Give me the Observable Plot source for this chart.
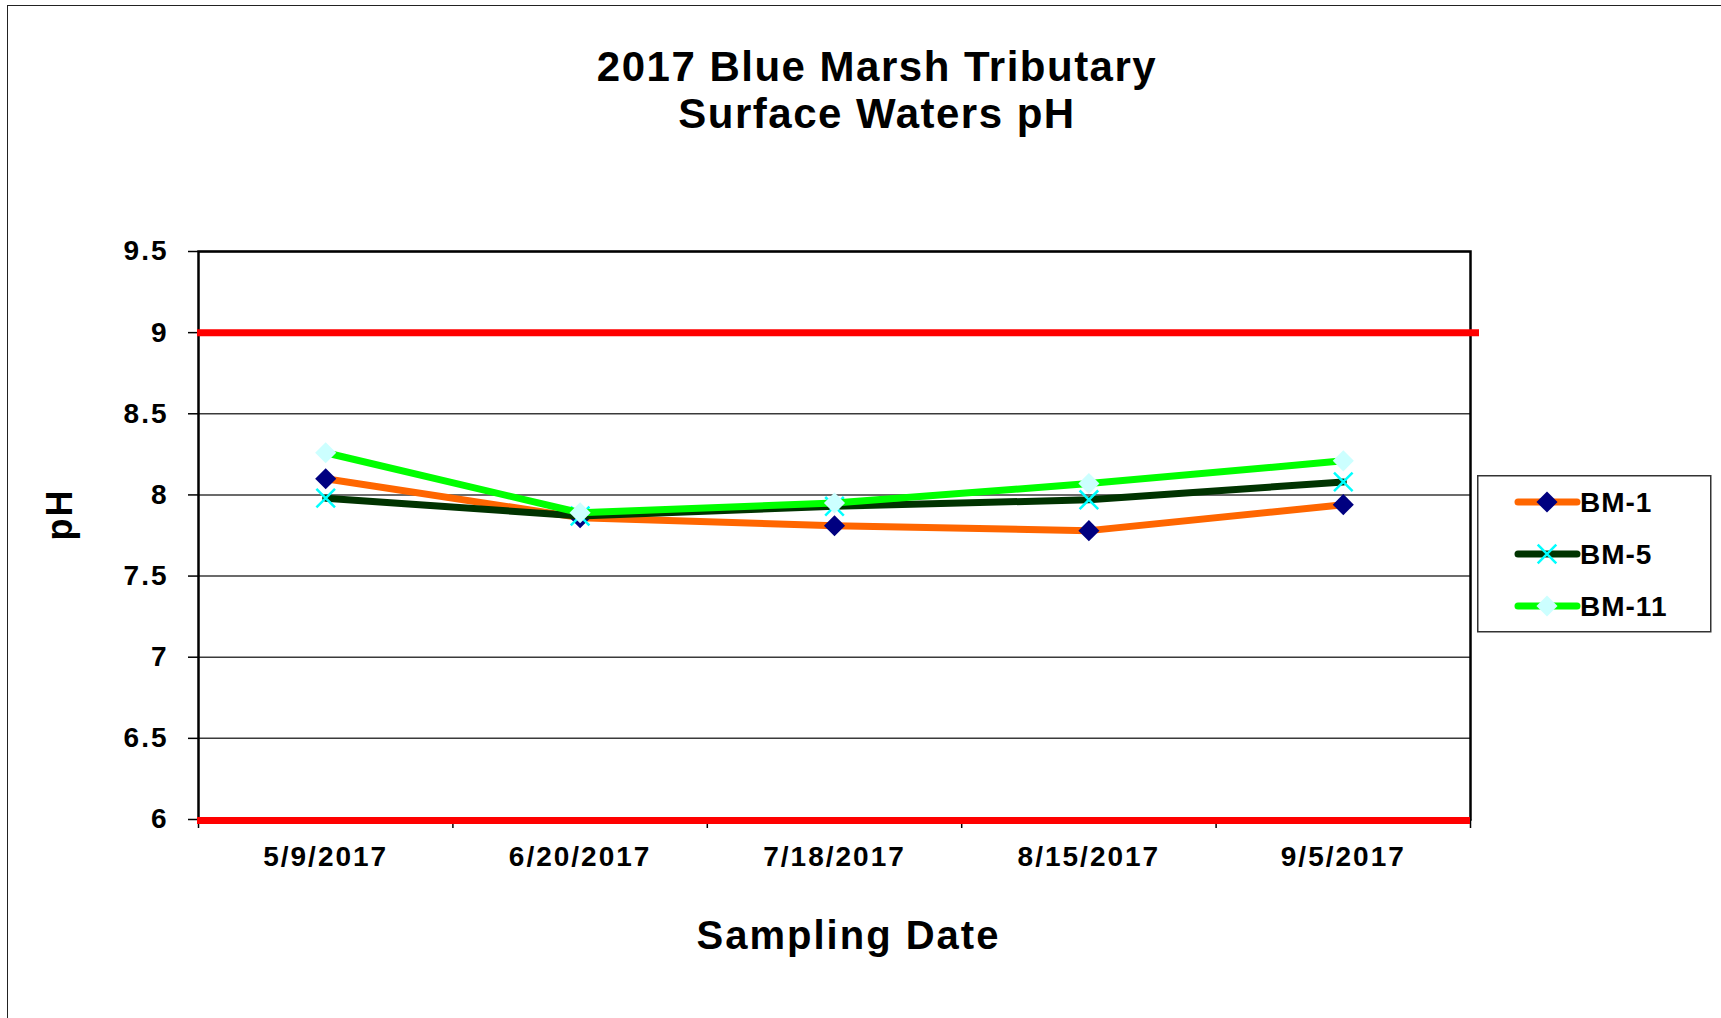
<!DOCTYPE html>
<html>
<head>
<meta charset="utf-8">
<script src="https://cdn.jsdelivr.net/npm/d3@7"></script>
<script src="https://cdn.jsdelivr.net/npm/@observablehq/plot@0.6"></script>
<style>
  html, body { margin: 0; padding: 0; background: #fff; width: 1721px; height: 1018px; overflow: hidden; }
  body { position: relative; font-family: "Liberation Sans", Arial, sans-serif; }
  #outer { position: absolute; left: 7px; top: 5px; width: 1800px; height: 1100px; border-left: 1.5px solid #222; border-top: 1.5px solid #222; pointer-events: none; }
  #title { position: relative; height: 160px; box-sizing: border-box; }
  #title div { position: absolute; left: 877px; transform: translateX(-50%); white-space: nowrap; font-weight: bold; font-size: 42px; letter-spacing: 1.5px; line-height: 47px; color: #000; }
  #chart svg text { letter-spacing: 2px; }
  #legend { position: absolute; left: 1477px; top: 475px; }
  #legend text { font-family: "Liberation Sans", Arial, sans-serif; font-weight: bold; font-size: 28px; letter-spacing: 1px; }
</style>
</head>
<body>
<div id="outer"></div>
<div id="title"><div style="top:43px">2017 Blue Marsh Tributary</div><div style="top:90px">Surface Waters pH</div></div>
<div id="chart"></div>
<svg id="legend" width="236" height="158"></svg>
<script>
// ---- data ----
const dates = ["5/9/2017", "6/20/2017", "7/18/2017", "8/15/2017", "9/5/2017"];
const series = ["BM-1", "BM-5", "BM-11"];
const bm1 = [8.10, 7.86, 7.81, 7.78, 7.94];
const bm5 = [7.98, 7.87, 7.93, 7.97, 8.08];
const bm11 = [8.26, 7.89, 7.95, 8.07, 8.21];
const yTicks = [6, 6.5, 7, 7.5, 8, 8.5, 9, 9.5];
const upperLimit = [9];
const lowerLimit = [6];
const yAxisTitle = "pH";
const xAxisTitle = "Sampling Date";

// ---- styles ----
const lineColors = ["#FF6600", "#003300", "#00FF00"];
const markerColors = ["#000080", "#00FFFF", "#CCFFFF"];
const markerSymbols = ["diamond2", "times", "diamond2"];

const values = [bm1, bm5, bm11];
const rows = series.flatMap((s, k) => dates.map((d, i) => ({series: s, date: d, pos: i + 0.5, ph: values[k][i]})));

const marks = [
  Plot.gridY({ticks: yTicks, stroke: "#3a3a3a", strokeOpacity: 1, strokeWidth: 1.5}),
  Plot.frame({stroke: "#000", strokeWidth: 2.5}),
  Plot.axisY({ticks: yTicks, tickSize: 10, tickPadding: 20, tickFormat: d => `${d}`, fontSize: 28, fontWeight: "bold", stroke: "#000", strokeWidth: 1.5, label: null}),
  Plot.axisX({ticks: d3.range(0, dates.length + 1), tickSize: 9, tickFormat: () => "", stroke: "#000", strokeWidth: 1.5, label: null}),
  Plot.axisX({ticks: dates.map((d, i) => i + 0.5), tickSize: 0, tickPadding: 27, tickFormat: t => dates[Math.round(t - 0.5)], fontSize: 28, fontWeight: "bold", label: null}),
  Plot.ruleY(upperLimit, {stroke: "#FF0000", strokeWidth: 7, insetLeft: -1, insetRight: -9}),
  Plot.ruleY(lowerLimit, {stroke: "#FF0000", strokeWidth: 7, insetLeft: -1, dy: 1})
];

series.forEach((s, k) => {
  const sub = rows.filter(r => r.series === s);
  marks.push(Plot.line(sub, {x: "pos", y: "ph", stroke: lineColors[k], strokeWidth: 7, strokeLinejoin: "round"}));
  if (markerSymbols[k] === "times") {
    marks.push(Plot.dot(sub, {x: "pos", y: "ph", symbol: "times", r: 8.5, stroke: markerColors[k], strokeWidth: 2.5}));
  } else {
    marks.push(Plot.dot(sub, {x: "pos", y: "ph", symbol: markerSymbols[k], r: 9.5, fill: markerColors[k], stroke: "none"}));
  }
});

marks.push(Plot.text([yAxisTitle], {text: d => d, frameAnchor: "left", dx: -138, dy: -21, rotate: -90, fontSize: 36, fontWeight: "bold", textAnchor: "middle", lineAnchor: "middle", fill: "#000"}));
marks.push(Plot.text([xAxisTitle], {text: d => d, frameAnchor: "bottom", dx: 14, dy: 117, fontSize: 40, fontWeight: "bold", textAnchor: "middle", lineAnchor: "middle", fill: "#000"}));

const chart = Plot.plot({
  width: 1721,
  height: 858,
  marginLeft: 198,
  marginRight: 251,
  marginTop: 91,
  marginBottom: 199,
  x: {type: "linear", domain: [0, dates.length], axis: null},
  y: {domain: [6, 9.5], axis: null},
  style: {fontFamily: "'Liberation Sans', Arial, sans-serif", background: "transparent", color: "#000", overflow: "visible"},
  marks
});
document.getElementById("chart").appendChild(chart);

// ---- legend ----
const lg = d3.select("#legend");
lg.append("rect").attr("x", 0.75).attr("y", 0.75).attr("width", 233).attr("height", 156).attr("fill", "#fff").attr("stroke", "#333").attr("stroke-width", 1.5);
series.forEach((s, k) => {
  const cy = 27 + k * 52;
  const g = lg.append("g").attr("transform", `translate(0,${cy})`);
  g.append("line").attr("x1", 41).attr("x2", 100).attr("y1", 0).attr("y2", 0).attr("stroke", lineColors[k]).attr("stroke-width", 7).attr("stroke-linecap", "round");
  const isTimes = markerSymbols[k] === "times";
  const path = d3.symbol(isTimes ? d3.symbolTimes : d3.symbolDiamond2, isTimes ? Math.PI * 8.5 * 8.5 : Math.PI * 9.5 * 9.5)();
  const p = g.append("path").attr("d", path).attr("transform", "translate(70,0)");
  if (isTimes) p.attr("fill", "none").attr("stroke", markerColors[k]).attr("stroke-width", 2.5);
  else p.attr("fill", markerColors[k]);
  g.append("text").attr("x", 103).attr("y", 0).attr("dy", "0.36em").text(s);
});
</script>
</body>
</html>
